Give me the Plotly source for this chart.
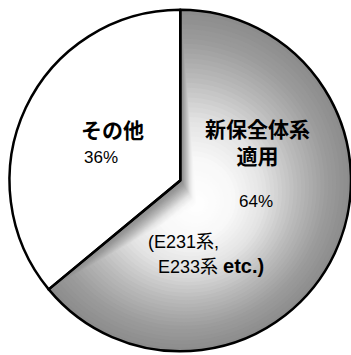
import plotly.graph_objects as go

# ---- data ----
slice_labels = ["新保全体系適用", "その他"]
slice_values = [64, 36]
pct_labels = ["64%", "36%"]
name_main = ["新保全体系", "適用"]
name_other = "その他"
example_lines = ["(E231系,", "E233系 <b><span style='font-size:20px'>etc.)</span></b>"]

# ---- style ----
W, H = 351, 355
CX, CY, R = 180.5, 180.5, 171.0      # pie centre / radius in px (from top-left)
GX, GY = 197.0, 205.0                 # centre of the radial shading
N_RINGS = 40
GRAY_STOPS = [(0.0, 255), (0.25, 248), (0.45, 226), (0.65, 188), (0.85, 156), (1.0, 140)]
FONT = "Liberation Sans, Arial, Noto Sans CJK JP, sans-serif"


def gray_at(t):
    for (t0, g0), (t1, g1) in zip(GRAY_STOPS[:-1], GRAY_STOPS[1:]):
        if t0 <= t <= t1:
            g = g0 + (g1 - g0) * (t - t0) / (t1 - t0)
            g = int(round(g))
            return f"rgb({g},{g},{g})"
    g = GRAY_STOPS[-1][1]
    return f"rgb({g},{g},{g})"


def domain_for(cx, cy, r):
    return dict(x=[max(0, (cx - r) / W), min(1, (cx + r) / W)],
                y=[max(0, 1 - (cy + r) / H), min(1, 1 - (cy - r) / H)])


fig = go.Figure()

common = dict(labels=slice_labels, values=slice_values, sort=False,
              direction="clockwise", rotation=0, textinfo="none",
              hoverinfo="skip", showlegend=False)

for k in range(N_RINGS):
    t = 1 - k / N_RINGS
    cx = CX + (GX - CX) * (1 - t)
    cy = CY + (GY - CY) * (1 - t)
    r = R * t
    other = "white" if k == 0 else "rgba(0,0,0,0)"
    fig.add_trace(go.Pie(domain=domain_for(cx, cy, r),
                         marker=dict(colors=[gray_at(t), other],
                                     line=dict(width=0)),
                         **common))

# outline on top
fig.add_trace(go.Pie(domain=domain_for(CX, CY, R),
                     marker=dict(colors=["rgba(0,0,0,0)", "rgba(0,0,0,0)"],
                                 line=dict(color="black", width=2.5)),
                     **common))


def px(x, y):
    return x / W, 1 - y / H


annots = []
x, y = px(257, 143)
annots.append(dict(x=x, y=y, text="<b>" + "<br>".join(name_main) + "</b>",
                   font=dict(size=21, family=FONT, color="black"),
                   xanchor="center", yanchor="middle"))
x, y = px(256, 201)
annots.append(dict(x=x, y=y, text=pct_labels[0],
                   font=dict(size=17, family=FONT, color="black"),
                   xanchor="center", yanchor="middle"))
x, y = px(79, 131)
annots.append(dict(x=x, y=y, text="<b>" + name_other + "</b>",
                   font=dict(size=21, family=FONT, color="black"),
                   xanchor="left", yanchor="middle"))
x, y = px(82, 157)
annots.append(dict(x=x, y=y, text=pct_labels[1],
                   font=dict(size=17, family=FONT, color="black"),
                   xanchor="left", yanchor="middle"))
x, y = px(146, 242)
annots.append(dict(x=x, y=y, text=example_lines[0],
                   font=dict(size=18, family=FONT, color="black"),
                   xanchor="left", yanchor="middle"))
x, y = px(156, 266)
annots.append(dict(x=x, y=y, text=example_lines[1],
                   font=dict(size=18, family=FONT, color="black"),
                   xanchor="left", yanchor="middle"))

for a in annots:
    a.update(xref="paper", yref="paper", showarrow=False)

fig.update_layout(width=W, height=H, margin=dict(l=0, r=0, t=0, b=0),
                  paper_bgcolor="white", plot_bgcolor="white",
                  annotations=annots)

fig.write_html("out.html",
               config={"displayModeBar": False, "staticPlot": True},
               post_script="document.body.style.margin='0';"
                           "document.body.style.overflow='hidden';")
